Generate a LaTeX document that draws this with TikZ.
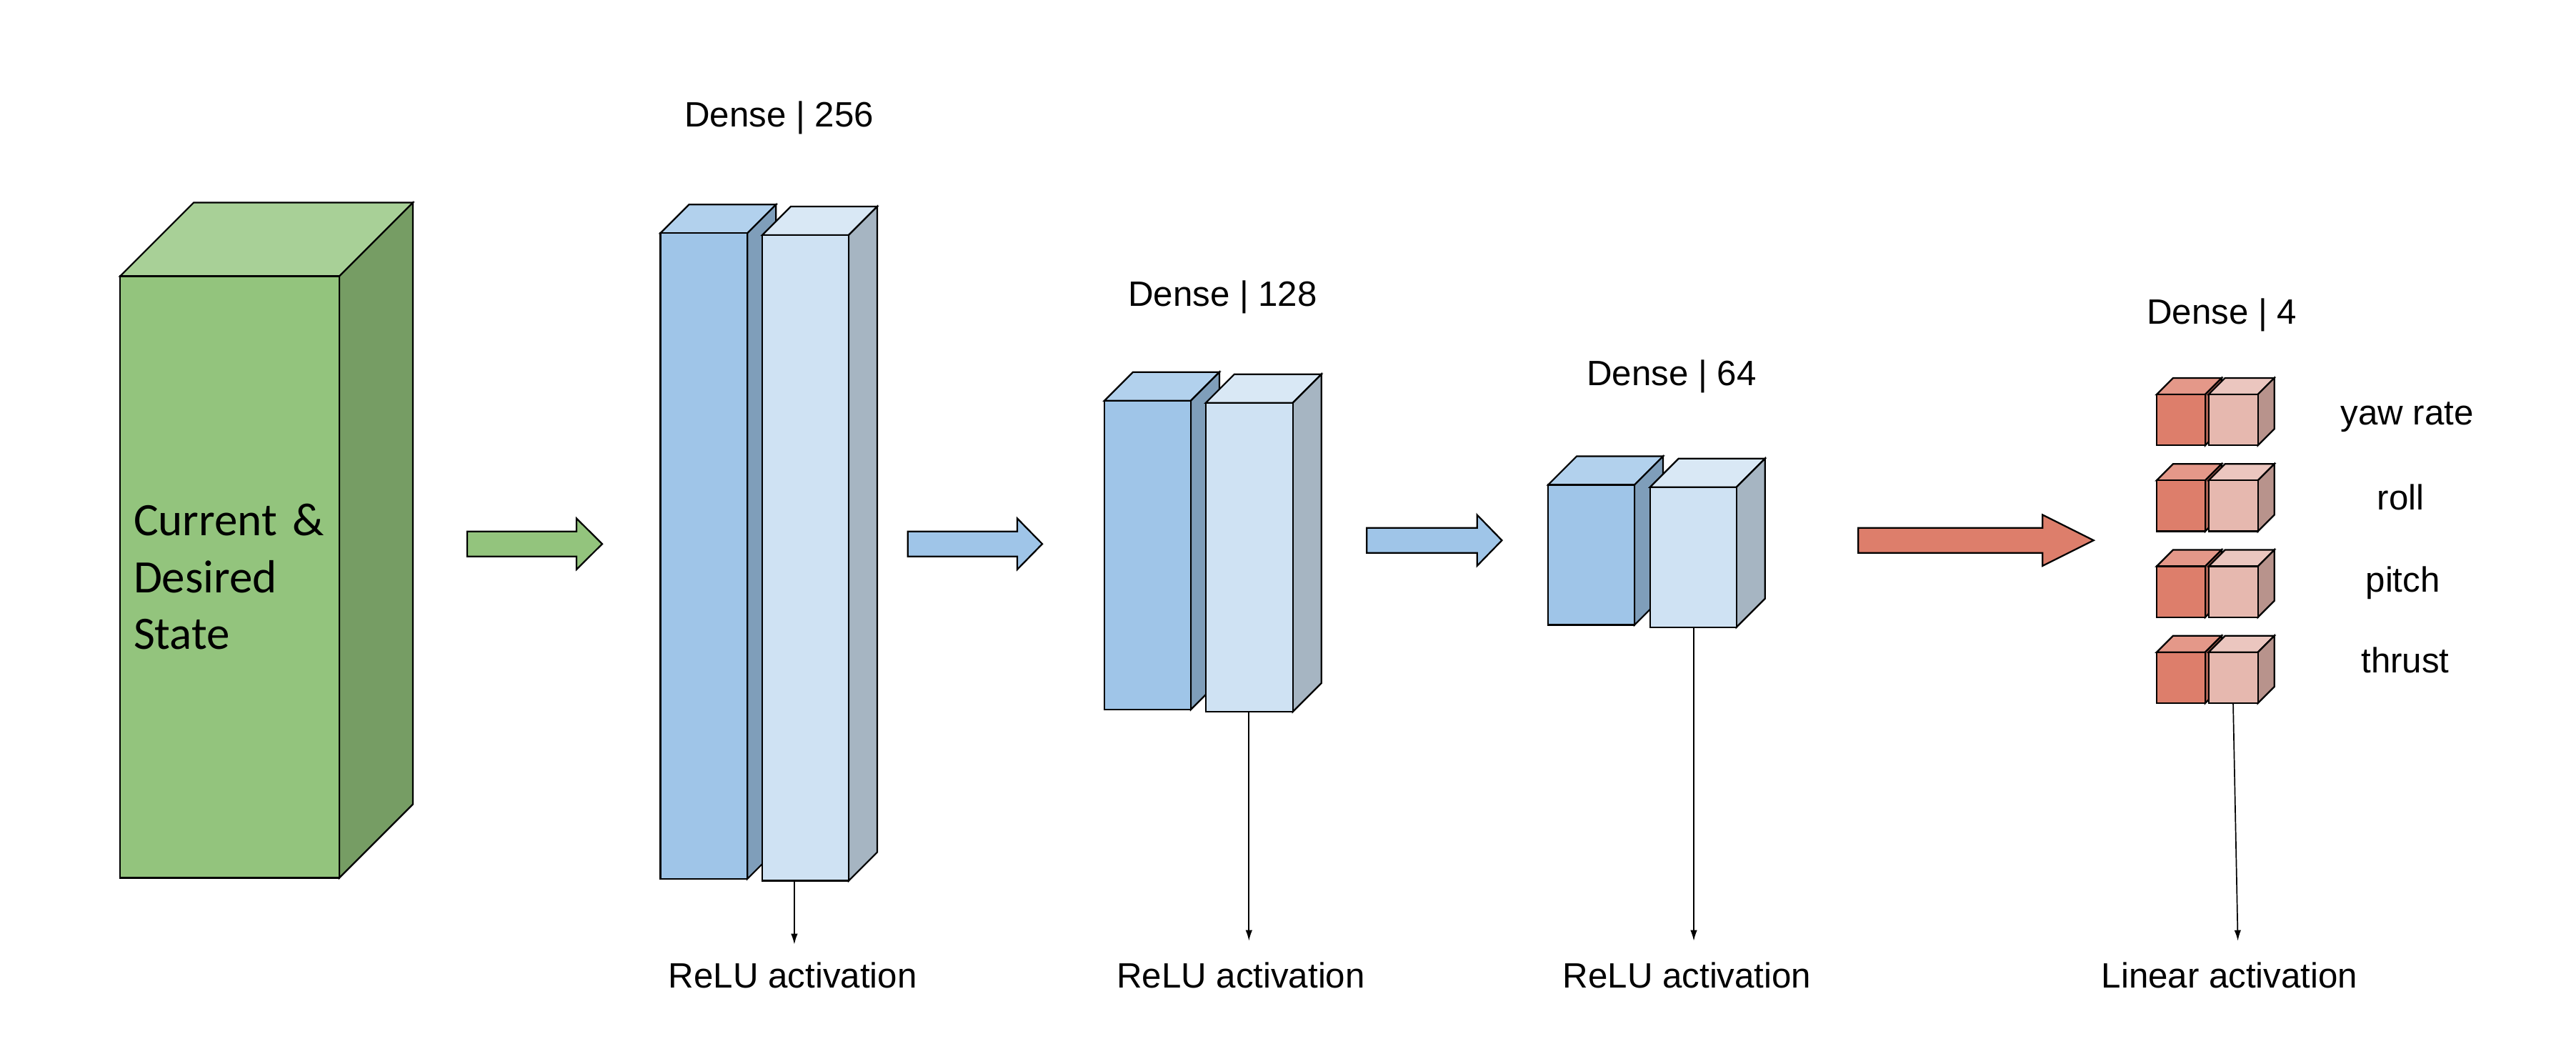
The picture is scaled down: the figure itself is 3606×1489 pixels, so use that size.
\documentclass[tikz,border=0pt]{standalone}
\usepackage{fontspec}
\setmainfont{Liberation Sans}
\newfontfamily\carlito{Carlito}
\usetikzlibrary{arrows.meta}
\definecolor{gF}{HTML}{93C47D}\definecolor{gT}{HTML}{A8D097}\definecolor{gS}{HTML}{769D64}
\definecolor{bAF}{HTML}{9FC5E8}\definecolor{bAT}{HTML}{B2D1ED}\definecolor{bAS}{HTML}{7F9EBA}
\definecolor{bBF}{HTML}{CFE2F3}\definecolor{bBT}{HTML}{D9E8F5}\definecolor{bBS}{HTML}{A6B5C2}
\definecolor{rAF}{HTML}{DD7E6B}\definecolor{rAT}{HTML}{E49889}\definecolor{rAS}{HTML}{B16556}
\definecolor{rBF}{HTML}{E6B8AF}\definecolor{rBT}{HTML}{EBC6BF}\definecolor{rBS}{HTML}{B8938C}
% #1 name, #2 x, #3 y, #4 w, #5 h, #6 depth, #7 front, #8 top, #9 side
\newcommand\cubo[9]{%
  \filldraw[face,fill=#8] (#2,#3) -- ++(#6,-#6) -- ++(#4,0) -- ++(-#6,#6) -- cycle;
  \filldraw[face,fill=#9] (#2+#4,#3) -- ++(#6,-#6) -- ++(0,#5) -- ++(-#6,#6) -- cycle;
  \node[face,draw,fill=#7,inner sep=0,outer sep=0,minimum width=#4*0.2pt,minimum height=#5*0.2pt,anchor=north west] (#1) at (#2,#3) {};}
% #1 name, #2 x0, #3 shaft end, #4 tip, #5 y centre, #6 colour
\newcommand\blockarrow[6]{%
  \filldraw[face,fill=#6] (#2,#5-17.5) -- (#3,#5-17.5) -- (#3,#5-35.7) -- (#4,#5) coordinate (#1)
    -- (#3,#5+35.7) -- (#3,#5+17.5) -- (#2,#5+17.5) -- cycle;}
\begin{document}
\begin{tikzpicture}[x=0.2pt,y=-0.2pt,
  face/.style={line width=0.45pt,line join=miter},
  lab/.style={font=\fontsize{9.85}{11.8}\selectfont,inner sep=0,anchor=base},
  act/.style={line width=0.34pt,-{Latex[length=3pt,width=1.9pt]}}]
\useasboundingbox (0,0) rectangle (3606,1489);

% input block
\cubo{inp}{168}{386.6}{307}{841.8}{103}{gF}{gT}{gS}
\node[font=\carlito\fontsize{13}{15.8}\selectfont,text width=80pt,align=left,inner sep=0,anchor=base west] (inptxt) at (186,750) {Current \&\\Desired\\State};

% arrows between layers
\blockarrow{ar1}{654}{807}{843}{761.2}{gF}
\blockarrow{ar2}{1270.7}{1424}{1459}{761.2}{bAF}
\blockarrow{ar3}{1913.3}{2067.6}{2102.4}{756.2}{bAF}
\blockarrow{ar4}{2601.3}{2859.3}{2930.7}{756.2}{rAF}

% dense 256
\cubo{d1a}{924.4}{326.3}{121.9}{903.5}{40}{bAF}{bAT}{bAS}
\cubo{d1b}{1067}{329}{121}{903.6}{40}{bBF}{bBT}{bBS}
% dense 128
\cubo{d2a}{1546}{560.7}{121}{432.2}{40}{bAF}{bAT}{bAS}
\cubo{d2b}{1687.8}{563.8}{121.9}{432.2}{40}{bBF}{bBT}{bBS}
% dense 64
\cubo{d3a}{2167}{678.6}{121}{196}{40}{bAF}{bAT}{bAS}
\cubo{d3b}{2309.7}{681.7}{121}{196}{40}{bBF}{bBT}{bBS}
% dense 4
\cubo{o1a}{3018.9}{552}{68}{71.3}{23}{rAF}{rAT}{rAS}
\cubo{o1b}{3091.6}{552}{69}{71.3}{23}{rBF}{rBT}{rBS}
\cubo{o2a}{3018.9}{672.3}{68}{71.3}{23}{rAF}{rAT}{rAS}
\cubo{o2b}{3091.6}{672.3}{69}{71.3}{23}{rBF}{rBT}{rBS}
\cubo{o3a}{3018.9}{792.5}{68}{71.3}{23}{rAF}{rAT}{rAS}
\cubo{o3b}{3091.6}{792.5}{69}{71.3}{23}{rBF}{rBT}{rBS}
\cubo{o4a}{3018.9}{912.8}{68}{71.3}{23}{rAF}{rAT}{rAS}
\cubo{o4b}{3091.6}{912.8}{69}{71.3}{23}{rBF}{rBT}{rBS}

% titles
\node[lab] (t1) at (1090.7,177.3) {Dense | 256};
\node[lab] (t2) at (1711.4,428.3) {Dense | 128};
\node[lab] (t3) at (2339.9,539.7) {Dense | 64};
\node[lab] (t4) at (3110.3,453.8) {Dense | 4};

% output names
\node[lab] (n1) at (3369.5,594.3) {yaw rate};
\node[lab] (n2) at (3360.5,713.7) {roll};
\node[lab] (n3) at (3363.6,828.6) {pitch};
\node[lab] (n4) at (3367,941.8) {thrust};

% activation labels
\node[lab] (a1) at (1109.7,1382) {ReLU activation};
\node[lab] (a2) at (1737,1382) {ReLU activation};
\node[lab] (a3) at (2361.6,1382) {ReLU activation};
\node[lab] (a4) at (3121,1382) {Linear activation};

\coordinate (e1) at (1111.9,1321.7);
\coordinate (e2) at (1748.3,1316.7);
\coordinate (e3) at (2371,1316.7);
\coordinate (e4) at (3132.6,1316.7);
\draw[act] (d1b.south west -| e1) -- (e1);
\draw[act] (d2b.south west -| e2) -- (e2);
\draw[act] (d3b.south west -| e3) -- (e3);
\draw[act] ([xshift=-6.6*0.2pt]o4b.south west -| e4) -- (e4);
\end{tikzpicture}
\end{document}
